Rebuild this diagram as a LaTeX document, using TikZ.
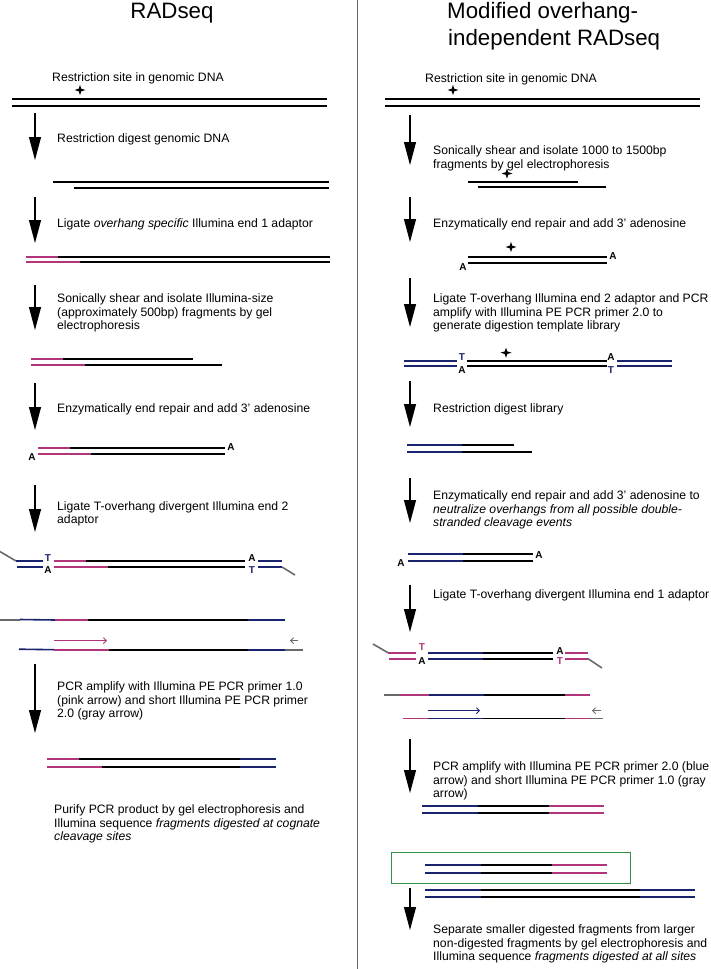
\documentclass[tikz,border=0pt]{standalone}
\usepackage{fontspec}
\setmainfont{Liberation Sans}
\usetikzlibrary{arrows.meta}
\definecolor{rpink}{RGB}{178,52,122}
\definecolor{rnavy}{RGB}{25,35,110}
\definecolor{rgray}{RGB}{105,105,105}
\definecolor{rgreen}{RGB}{46,145,70}
\begin{document}
\begin{tikzpicture}[x=1pt,y=-1pt,
  strand/.style={line width=2pt},
  thinstrand/.style={line width=1.6pt},
  steparrow/.style={line width=1.1pt,-{Triangle[width=12pt,length=23pt]}},
  primer/.style={line width=0.9pt,-{Straight Barb[length=3pt,width=6pt]}},
  txt/.style={anchor=base west,inner sep=0pt,align=left,font=\fontsize{12.2}{13.8}\selectfont},
  ttl/.style={inner sep=0pt,align=left,font=\fontsize{22.3}{26.5}\selectfont},
  nuc/.style={inner sep=0pt,font=\fontsize{10}{10}\selectfont\bfseries},
  sitestar/.pic={\fill (0,-5) -- (1.3,-1.3) -- (5.5,0) -- (1.3,1.3) -- (0,5) -- (-1.3,1.3) -- (-5.5,0) -- (-1.3,-1.3) -- cycle;}
]
\useasboundingbox (0,0) rectangle (711,969);
% divider
\draw[rgray,line width=1pt] (357,0) -- (357,969);

% ===================== LEFT COLUMN =====================
\node[ttl,anchor=base] (tl) at (172,18.5) {RADseq};
\node[txt] (l1) at (52,81) {Restriction site in genomic DNA};
\pic at (80,90) {sitestar};
\draw[strand] (12,99) -- (327,99);
\draw[strand] (12,105.7) -- (327,105.7);

\coordinate (la1s) at (35,113); \coordinate (la1e) at (35,160);
\draw[steparrow] (la1s) -- (la1e);
\node[txt] (l2) at (57,142.3) {Restriction digest genomic DNA};
\draw[strand] (53,181.7) -- (329,181.7);
\draw[strand] (74,187.7) -- (329,187.7);

\coordinate (la2s) at (35,197); \coordinate (la2e) at (35,243);
\draw[steparrow] (la2s) -- (la2e);
\node[txt] (l3) at (57,227.3) {Ligate \textit{overhang specific} Illumina end 1 adaptor};
\draw[strand,rpink] (26,256.7) -- (58,256.7);
\draw[strand] (58,256.7) -- (330,256.7);
\draw[strand,rpink] (26,262.3) -- (80,262.3);
\draw[strand] (80,262.3) -- (330,262.3);

\coordinate (la3s) at (35,285); \coordinate (la3e) at (35,330);
\draw[steparrow] (la3s) -- (la3e);
\node[txt] (l4) at (57,329.9) {Sonically shear and isolate Illumina-size\\(approximately 500bp) fragments by gel\\electrophoresis};
\draw[strand,rpink] (31,359.3) -- (63,359.3);
\draw[strand] (63,359.3) -- (193,359.3);
\draw[strand,rpink] (31,365.3) -- (85,365.3);
\draw[strand] (85,365.3) -- (222,365.3);

\coordinate (la4s) at (35,383); \coordinate (la4e) at (35,430);
\draw[steparrow] (la4s) -- (la4e);
\node[txt] (l5) at (57,412.3) {Enzymatically end repair and add 3' adenosine};
\draw[strand,rpink] (38,448.3) -- (70,448.3);
\draw[strand] (70,448.3) -- (225,448.3);
\draw[strand,rpink] (38,454.3) -- (91,454.3);
\draw[strand] (91,454.3) -- (225,454.3);
\node[nuc] (lA1) at (231,447) {A};
\node[nuc] (lA2) at (32,457) {A};

\coordinate (la5s) at (35,485); \coordinate (la5e) at (35,532);
\draw[steparrow] (la5s) -- (la5e);
\node[txt] (l6) at (57,523.8) {Ligate T-overhang divergent Illumina end 2\\adaptor};
% adaptor ligation
\draw[thinstrand,rgray] (-1,551) -- (16,561);
\draw[strand,rnavy] (16,561) -- (43,561);
\draw[strand,rnavy] (17,567) -- (43,567);
\node[nuc,rnavy] (lT1) at (48,558) {T};
\node[nuc] (lA3) at (48,570) {A};
\draw[strand,rpink] (54,561) -- (86,561);
\draw[strand] (86,561) -- (245,561);
\draw[strand,rpink] (54,567) -- (108,567);
\draw[strand] (108,567) -- (245,567);
\node[nuc] (lA4) at (252,558) {A};
\node[nuc,rnavy] (lT2) at (252,570) {T};
\draw[strand,rnavy] (258,561) -- (282,561);
\draw[strand,rnavy] (258,567) -- (282,567);
\draw[thinstrand,rgray] (282,567) -- (295,575);
% separated strands
\draw[thinstrand,rgray] (-1,620) -- (20,620);
\draw[thinstrand,rnavy] (20,619.5) -- (55,620);
\draw[thinstrand,rpink] (55,620) -- (88,620);
\draw[thinstrand] (88,620) -- (248,620);
\draw[thinstrand,rnavy] (248,620) -- (285,620);
\coordinate (lp1s) at (54,640.7); \coordinate (lp1e) at (107,640.7);
\draw[primer,rpink] (lp1s) -- (lp1e);
\coordinate (lp2s) at (298,640.7); \coordinate (lp2e) at (290,640.7);
\draw[primer,rgray] (lp2s) -- (lp2e);
\draw[thinstrand,rnavy] (19,649.2) -- (54,649.7);
\draw[thinstrand,rpink] (54,649.7) -- (109,649.7);
\draw[thinstrand] (109,649.7) -- (248,649.7);
\draw[thinstrand,rnavy] (248,649.7) -- (285,649.7);
\draw[thinstrand,rgray] (285,649.7) -- (303,649.7);

\coordinate (la6s) at (35,664); \coordinate (la6e) at (35,733);
\draw[steparrow] (la6s) -- (la6e);
\node[txt] (l7) at (57,717.9) {PCR amplify with Illumina PE PCR primer 1.0\\(pink arrow) and short Illumina PE PCR primer\\2.0 (gray arrow)};
\draw[strand,rpink] (47,759.3) -- (79,759.3);
\draw[strand] (79,759.3) -- (240,759.3);
\draw[strand,rnavy] (240,759.3) -- (276,759.3);
\draw[strand,rpink] (47,767.3) -- (102,767.3);
\draw[strand] (102,767.3) -- (240,767.3);
\draw[strand,rnavy] (240,767.3) -- (276,767.3);
\node[txt] (l8) at (54,840.9) {Purify PCR product by gel electrophoresis and\\Illumina sequence \textit{fragments digested at cognate}\\\textit{cleavage sites}};

% ===================== RIGHT COLUMN =====================
\node[ttl,anchor=base west] (tr) at (447,45) {Modified overhang-\\\hspace*{1pt}independent RADseq};
\node[txt] (r1) at (425,82) {Restriction site in genomic DNA};
\pic at (453,90) {sitestar};
\draw[strand] (385,99) -- (700,99);
\draw[strand] (385,105.7) -- (700,105.7);

\coordinate (ra1s) at (410,115); \coordinate (ra1e) at (410,165);
\draw[steparrow] (ra1s) -- (ra1e);
\node[txt] (r2) at (433,168.3) {Sonically shear and isolate 1000 to 1500bp\\fragments by gel electrophoresis};
\pic at (507,173.5) {sitestar};
\draw[strand] (468,181.7) -- (578,181.7);
\draw[strand] (478,187.3) -- (606,187.3);

\coordinate (ra2s) at (410,197); \coordinate (ra2e) at (410,242);
\draw[steparrow] (ra2s) -- (ra2e);
\node[txt] (r3) at (433,227.3) {Enzymatically end repair and add 3' adenosine};
\pic at (511,247) {sitestar};
\draw[strand] (468,257.3) -- (607,257.3);
\draw[strand] (468,263.3) -- (607,263.3);
\node[nuc] (rA1) at (613,256) {A};
\node[nuc] (rA2) at (463,266.7) {A};

\coordinate (ra3s) at (410,278); \coordinate (ra3e) at (410,327);
\draw[steparrow] (ra3s) -- (ra3e);
\node[txt] (r4) at (433,329.9) {Ligate T-overhang Illumina end 2 adaptor and PCR\\amplify with Illumina PE PCR primer 2.0 to\\generate digestion template library};
\pic at (506,352.7) {sitestar};
\draw[strand,rnavy] (404,360.7) -- (457,360.7);
\draw[strand] (467,360.7) -- (607,360.7);
\draw[strand,rnavy] (617,360.7) -- (672,360.7);
\draw[strand,rnavy] (404,366.3) -- (457,366.3);
\draw[strand] (467,366.3) -- (607,366.3);
\draw[strand,rnavy] (617,366.3) -- (672,366.3);
\node[nuc,rnavy] (rT1) at (462,356.7) {T};
\node[nuc] (rA3) at (462,370) {A};
\node[nuc] (rA4) at (611,357) {A};
\node[nuc,rnavy] (rT2) at (611,370) {T};

\coordinate (ra4s) at (410,381); \coordinate (ra4e) at (410,427);
\draw[steparrow] (ra4s) -- (ra4e);
\node[txt] (r5) at (433,412.3) {Restriction digest library};
\draw[strand,rnavy] (407,445.3) -- (462,445.3);
\draw[strand] (462,445.3) -- (514,445.3);
\draw[strand,rnavy] (407,451.7) -- (462,451.7);
\draw[strand] (462,451.7) -- (532,451.7);

\coordinate (ra5s) at (410,478); \coordinate (ra5e) at (410,523);
\draw[steparrow] (ra5s) -- (ra5e);
\node[txt] (r6) at (433,526.9) {Enzymatically end repair and add 3' adenosine to\\\textit{neutralize overhangs from all possible double-}\\\textit{stranded cleavage events}};
\draw[strand,rnavy] (408,554) -- (463,554);
\draw[strand] (463,554) -- (533,554);
\draw[strand,rnavy] (408,561) -- (463,561);
\draw[strand] (463,561) -- (533,561);
\node[nuc] (rA5) at (539,555) {A};
\node[nuc] (rA6) at (401,562.7) {A};

\coordinate (ra6s) at (410,585); \coordinate (ra6e) at (410,632);
\draw[steparrow] (ra6s) -- (ra6e);
\node[txt] (r7) at (433,598.3) {Ligate T-overhang divergent Illumina end 1 adaptor};
% adaptor ligation
\draw[thinstrand,rgray] (373,644) -- (388,652.7);
\draw[strand,rpink] (388,652.7) -- (416,652.7);
\draw[strand,rpink] (389,658.7) -- (416,658.7);
\node[nuc,rpink] (rT3) at (422,647.3) {T};
\node[nuc] (rA7) at (422,661) {A};
\draw[strand,rnavy] (428,652.7) -- (483,652.7);
\draw[strand] (483,652.7) -- (553,652.7);
\draw[strand,rnavy] (428,658.7) -- (483,658.7);
\draw[strand] (483,658.7) -- (553,658.7);
\node[nuc] (rA8) at (560,651) {A};
\node[nuc,rpink] (rT4) at (560,661) {T};
\draw[strand,rpink] (565,652.7) -- (588,652.7);
\draw[strand,rpink] (565,658.7) -- (588,658.7);
\draw[thinstrand,rgray] (588,658.7) -- (602,668);
% separated strands
\draw[thinstrand,rgray] (384,695) -- (400,695);
\draw[thinstrand,rpink] (400,695) -- (429,695);
\draw[thinstrand,rnavy] (429,695) -- (484,695);
\draw[thinstrand] (484,695) -- (565,695);
\draw[thinstrand,rpink] (565,695) -- (590,695);
\coordinate (rp1s) at (428,710.7); \coordinate (rp1e) at (480,710.7);
\draw[primer,rnavy] (rp1s) -- (rp1e);
\coordinate (rp2s) at (601,710.7); \coordinate (rp2e) at (592,710.7);
\draw[primer,rgray] (rp2s) -- (rp2e);
\draw[thinstrand,rpink] (403,718.3) -- (428,718.3);
\draw[thinstrand,rnavy] (428,718.3) -- (483,718.3);
\draw[thinstrand] (483,718.3) -- (565,718.3);
\draw[thinstrand,rpink] (565,718.3) -- (590,718.3);
\draw[thinstrand,rgray] (590,718.3) -- (603,718.3);

\coordinate (ra7s) at (410,739); \coordinate (ra7e) at (410,793);
\draw[steparrow] (ra7s) -- (ra7e);
\node[txt] (r8) at (433,797.9) {PCR amplify with Illumina PE PCR primer 2.0 (blue\\arrow) and short Illumina PE PCR primer 1.0 (gray\\arrow)};
\draw[strand,rnavy] (422,806) -- (478,806);
\draw[strand] (478,806) -- (549,806);
\draw[strand,rpink] (549,806) -- (604,806);
\draw[strand,rnavy] (422,813.3) -- (478,813.3);
\draw[strand] (478,813.3) -- (549,813.3);
\draw[strand,rpink] (549,813.3) -- (604,813.3);

% selected digested fragment
\node[draw=rgreen,line width=1.3pt,inner sep=0pt,minimum width=239pt,minimum height=31pt,anchor=north west] (gbox) at (391,851.7) {};
\draw[strand,rnavy] (425,865) -- (481,865);
\draw[strand] (481,865) -- (552,865);
\draw[strand,rpink] (552,865) -- (607,865);
\draw[strand,rnavy] (425,872.7) -- (481,872.7);
\draw[strand] (481,872.7) -- (552,872.7);
\draw[strand,rpink] (552,872.7) -- (607,872.7);
\draw[strand,rnavy] (425,890) -- (481,890);
\draw[strand] (481,890) -- (640,890);
\draw[strand,rnavy] (640,890) -- (695,890);
\draw[strand,rnavy] (425,896.7) -- (481,896.7);
\draw[strand] (481,896.7) -- (640,896.7);
\draw[strand,rnavy] (640,896.7) -- (695,896.7);

\coordinate (ra8s) at (410,888); \coordinate (ra8e) at (410,930);
\draw[steparrow] (ra8s) -- (ra8e);
\node[txt] (r9) at (433,960.9) {Separate smaller digested fragments from larger\\non-digested fragments by gel electrophoresis and\\Illumina sequence \textit{fragments digested at all sites}};
\end{tikzpicture}
\end{document}
